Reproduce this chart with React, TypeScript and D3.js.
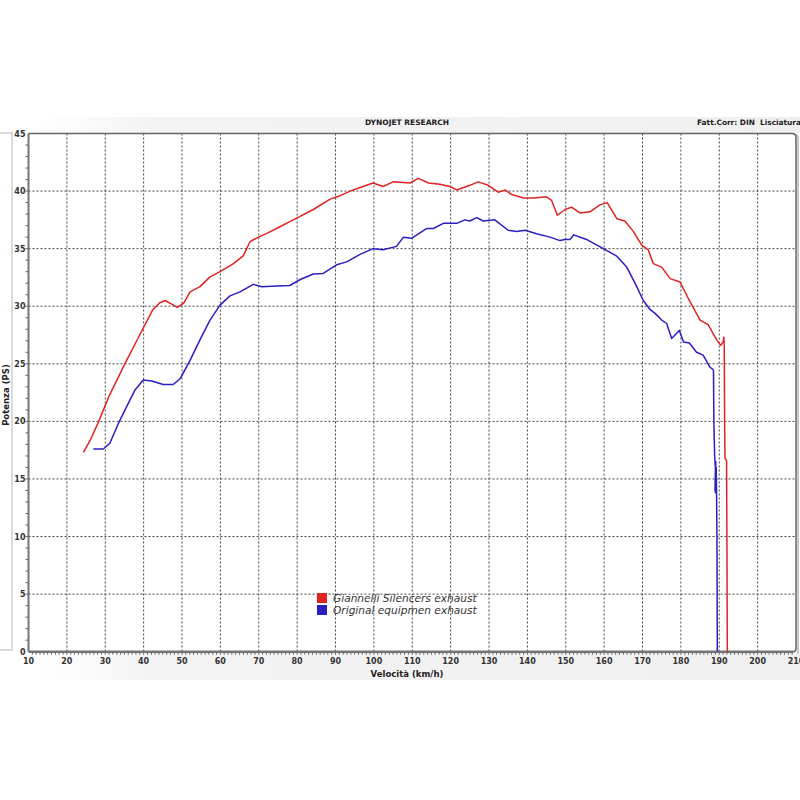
import { useMemo } from "react"
import * as d3 from "d3"

// speed (km/h) / power (PS)
const giannelliSpeed = [
  24.3, 26.0, 28.3, 31.0, 35.1, 38.5, 42.4, 44.2, 45.6, 47.2, 48.8, 50.5, 52.1, 54.7, 57.3, 59.9, 63.4,
  66.0, 67.7, 69.9, 72.0, 75.5, 79.0, 84.2, 88.6, 91.2, 94.6, 98.1, 99.8, 102.4, 105.0, 109.4, 111.6,
  114.2, 117.2, 119.8, 121.6, 125.0, 127.2, 129.8, 132.4, 134.2, 135.9, 139.0, 141.6, 145.0, 146.3,
  147.8, 149.8, 151.5, 153.7, 156.3, 158.9, 160.8, 163.3, 165.4, 167.6, 169.8, 171.5, 172.8, 175.0,
  177.2, 179.8, 182.2, 185.0, 187.1, 189.3, 190.4, 191.0, 191.2, 191.3, 191.4, 191.5, 191.9, 192.0, 192.1,
]
const giannelliPower = [
  17.3, 18.3, 20.0, 22.2, 25.0, 27.2, 29.7, 30.3, 30.5, 30.2, 29.9, 30.3, 31.25, 31.7, 32.55, 33.0, 33.7,
  34.4, 35.6, 36.0, 36.3, 36.9, 37.5, 38.4, 39.3, 39.6, 40.1, 40.5, 40.7, 40.4, 40.8, 40.7, 41.1,
  40.7, 40.6, 40.4, 40.1, 40.5, 40.8, 40.5, 39.9, 40.1, 39.7, 39.4, 39.4, 39.5, 39.2,
  37.9, 38.4, 38.6, 38.1, 38.2, 38.8, 39.0, 37.6, 37.4, 36.5, 35.3, 34.9, 33.7, 33.4,
  32.4, 32.1, 30.5, 28.8, 28.4, 27.1, 26.6, 26.9, 27.3, 26.6, 20.0, 16.8, 16.6, 10.0, 0,
]

const originalSpeed = [
  26.9, 29.5, 31.2, 33.4, 35.6, 37.7, 39.9, 42.1, 45.1, 47.7, 49.5, 52.1, 54.7, 57.3, 59.9, 62.5, 65.1,
  68.6, 70.8, 74.7, 78.1, 80.7, 84.2, 86.8, 90.3, 92.9, 96.4, 99.8, 102.4, 105.9, 107.7, 109.8, 113.7,
  115.5, 118.1, 121.6, 123.7, 125.0, 126.8, 128.5, 131.5, 135.0, 137.2, 139.4, 142.4, 145.9, 148.5,
  149.8, 151.1, 152.1, 155.4, 159.8, 163.3, 165.9, 168.5, 170.2, 172.0, 173.2, 175.0, 176.3, 177.6,
  179.6, 180.7, 182.2, 184.1, 185.8, 187.6, 188.4, 188.5, 188.6, 188.8, 189.0, 188.9, 189.1, 189.0,
  189.2, 189.3, 189.4, 189.5,
]
const originalPower = [
  17.6, 17.6, 18.1, 19.8, 21.3, 22.7, 23.6, 23.5, 23.2, 23.2, 23.7, 25.3, 27.1, 28.8, 30.1, 30.9, 31.25,
  31.9, 31.7, 31.75, 31.8, 32.3, 32.8, 32.85, 33.6, 33.85, 34.5, 35.0, 34.9, 35.2, 36.0, 35.9, 36.75,
  36.75, 37.2, 37.2, 37.5, 37.4, 37.7, 37.4, 37.5, 36.6, 36.5, 36.6, 36.3, 36.0, 35.7,
  35.8, 35.8, 36.2, 35.8, 35.0, 34.35, 33.4, 31.7, 30.5, 29.7, 29.4, 28.8, 28.5, 27.2,
  27.9, 26.9, 26.8, 26.0, 25.75, 24.7, 24.5, 24.4, 20.0, 17.0, 16.0, 14.0, 16.5, 13.8,
  16.0, 13.7, 10.0, 0,
]

const xTicks = d3.range(10, 211, 10)
const yTicks = d3.range(0, 46, 5)

const seriesNames = ["Giannelli Silencers exhaust", "Original equipmen exhaust"]
const seriesColors = ["#e02424", "#2a1fc0"]

const FONT = "'DejaVu Sans', Verdana, sans-serif"

export default function App() {
  const x = d3.scaleLinear().domain([10, 210]).range([28.5, 796])
  const y = d3.scaleLinear().domain([0, 45]).range([651.7, 133.5])

  const line = d3
    .line<[number, number]>()
    .x((d) => x(d[0]))
    .y((d) => y(d[1]))

  const series = useMemo(
    () => [
      d3.zip(giannelliSpeed, giannelliPower) as [number, number][],
      d3.zip(originalSpeed, originalPower) as [number, number][],
    ],
    [],
  )

  const [x0, x1] = x.range()
  const [y0, y1] = y.range()

  return (
    <div style={{ position: "absolute", left: 0, top: 0 }}>
      <svg width={800} height={800} style={{ display: "block", background: "#fff" }}>
        <defs>
          <linearGradient id="band" x1="0" x2="1" y1="0" y2="0">
            <stop offset="0" stopColor="#fff" />
            <stop offset="0.15" stopColor="#f3f3f3" />
            <stop offset="1" stopColor="#f0f0f0" />
          </linearGradient>
        </defs>

        {/* header and footer bands */}
        <rect x={40} y={117} width={760} height={16} fill="url(#band)" />
        <rect x={40} y={652} width={760} height={28} fill="url(#band)" />
        <text x={407} y={125} fontFamily={FONT} fontSize={7.5} fontWeight="bold" textAnchor="middle" fill="#222">
          DYNOJET RESEARCH
        </text>
        <text x={697} y={125} fontFamily={FONT} fontSize={7.4} fontWeight="bold" fill="#222">
          {"Fatt.Corr: DIN\u00a0 Lisciatura"}
        </text>

        {/* left side box */}
        <path d="M0,133 H12 V650 H0" fill="none" stroke="#d0d0d0" strokeWidth={1.5} />

        {/* grid */}
        <g stroke="#444" strokeWidth={1} strokeDasharray="2,2">
          {xTicks
            .filter((t) => t > 10 && t < 210)
            .map((t) => (
              <line key={t} x1={x(t)} x2={x(t)} y1={y1} y2={y0} />
            ))}
          {yTicks
            .filter((t) => t > 0 && t < 45)
            .map((t) => (
              <line key={t} x1={x0} x2={x1} y1={y(t)} y2={y(t)} />
            ))}
        </g>

        {/* frame */}
        <path
          d={`M${x1 + 2},${y0 + 2} V${y1 + 4} Q${x1 + 2},${y1 + 1} ${x1 - 1},${y1 + 1}`}
          fill="none"
          stroke="#c8c8c8"
          strokeWidth={2}
        />
        <path
          d={`M${x0},${y1} H${x1 - 4} Q${x1},${y1} ${x1},${y1 + 4} V${y0 - 3} Q${x1},${y0} ${x1 - 3},${y0}`}
          fill="none"
          stroke="#666"
          strokeWidth={1.5}
        />
        <line x1={x0} x2={x0} y1={y1} y2={y0} stroke="#777" strokeWidth={2} />
        <line x1={x0} x2={x1 - 3} y1={y0} y2={y0} stroke="#777" strokeWidth={2.5} />

        {/* minor ticks */}
        <g stroke="#666" strokeWidth={1}>
          {d3.range(11, 210, 1).map((t) => (
            <line key={t} x1={x(t)} x2={x(t)} y1={y0} y2={y0 + 3} />
          ))}
          {d3.range(1, 45, 1).map((t) => (
            <line key={t} x1={x0 - 3} x2={x0} y1={y(t)} y2={y(t)} />
          ))}
        </g>

        {/* tick labels */}
        <g fontFamily={FONT} fontSize={8} fontWeight="bold" fill="#333">
          {xTicks.map((t) => (
            <text key={t} x={x(t)} y={y0 + 12} textAnchor="middle">
              {t}
            </text>
          ))}
          {yTicks.map((t) => (
            <text key={t} x={x0 - 3} y={y(t) + 3} textAnchor="end">
              {t}
            </text>
          ))}
        </g>

        <text x={407} y={677} fontFamily={FONT} fontSize={8.5} fontWeight="bold" textAnchor="middle" fill="#222">
          Velocità (km/h)
        </text>
        <text
          transform={`translate(9,395) rotate(-90)`}
          fontFamily={FONT}
          fontSize={8.5}
          fontWeight="bold"
          textAnchor="middle"
          fill="#222"
        >
          Potenza (PS)
        </text>

        {/* curves */}
        {series.map((s, i) => (
          <path
            key={seriesNames[i]}
            d={line(s) ?? ""}
            fill="none"
            stroke={seriesColors[i]}
            strokeWidth={1.5}
            strokeLinejoin="round"
          />
        ))}

        {/* legend */}
        {seriesNames.map((name, i) => (
          <g key={name} transform={`translate(317,${593 + i * 12})`}>
            <rect x={0} y={0} width={10} height={10} fill={seriesColors[i]} />
            <text x={16} y={9} fontFamily={FONT} fontSize={10.6} fontStyle="italic" fill="#333">
              {name}
            </text>
          </g>
        ))}
      </svg>
    </div>
  )
}
